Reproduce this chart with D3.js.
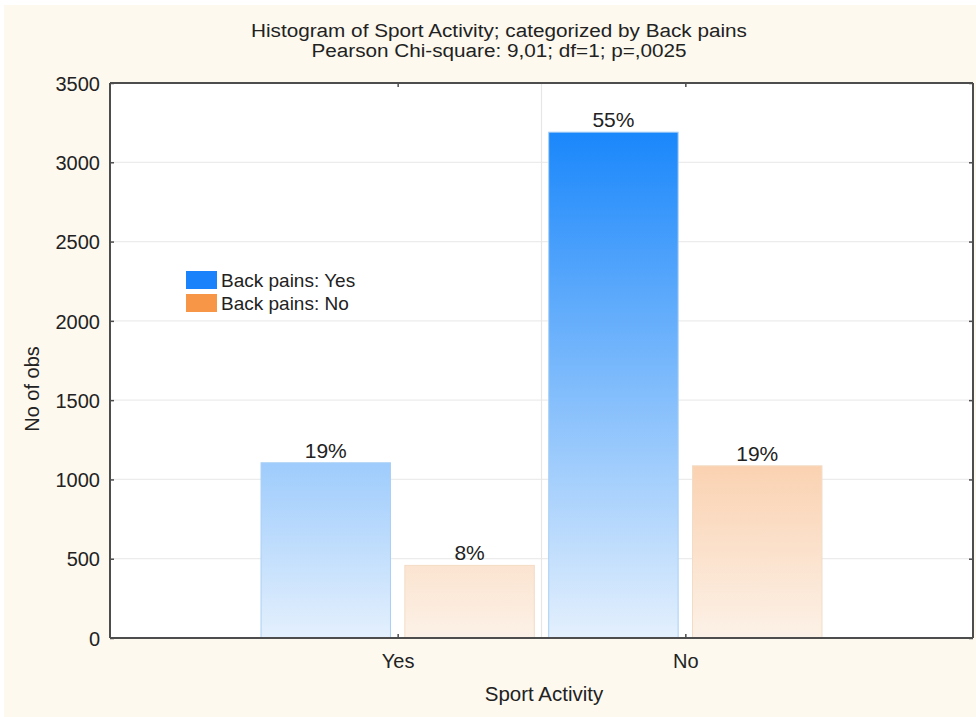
<!DOCTYPE html>
<html><head><meta charset="utf-8">
<script src="https://cdn.jsdelivr.net/npm/d3@7"></script>
<style>body{margin:0;background:#fff}svg{display:block;font-family:"Liberation Sans",Arial,sans-serif}</style>
</head><body>
<svg id="c" width="976" height="717"></svg>
<script>
const categories = ["Yes", "No"];
const seriesNames = ["Back pains: Yes", "Back pains: No"];
const backPainsYes = [1105, 3190];
const backPainsNo = [458, 1086];
const percentLabelsYes = ["19%", "55%"];
const percentLabelsNo = ["8%", "19%"];
const yTicks = [0, 500, 1000, 1500, 2000, 2500, 3000, 3500];
const titleLines = ["Histogram of Sport Activity; categorized by Back pains", "Pearson Chi-square: 9,01; df=1; p=,0025"];

const W = 976, H = 717;
const m = {left: 110, right: 973, top: 83, bottom: 638};
const svg = d3.select("#c");

svg.append("rect").attr("x", 4).attr("y", 5).attr("width", W - 4).attr("height", H - 5).attr("fill", "#fdf9ef");
svg.append("rect").attr("x", m.left).attr("y", m.top).attr("width", m.right - m.left).attr("height", m.bottom - m.top).attr("fill", "#fff");

const x = d3.scaleLinear().domain([0, 3]).range([m.left, m.right]);
const y = d3.scaleLinear().domain([0, 3500]).range([m.bottom, m.top]);

const defs = svg.append("defs");
const maxV = d3.max(backPainsYes.concat(backPainsNo));
function grad(id, top, bottom) {
  const g = defs.append("linearGradient").attr("id", id).attr("gradientUnits", "userSpaceOnUse")
    .attr("x1", 0).attr("x2", 0).attr("y1", y(maxV)).attr("y2", y(0));
  g.append("stop").attr("offset", 0).attr("stop-color", top);
  g.append("stop").attr("offset", 1).attr("stop-color", bottom);
}
grad("gBlue", "#1a87fb", "#e4f0fd");
grad("gOrange", "#f7964a", "#fcf1e7");

// grid
svg.append("g").selectAll("line").data(yTicks.filter(d => d > 0 && d < 3500)).join("line")
  .attr("x1", m.left).attr("x2", m.right).attr("y1", d => y(d)).attr("y2", d => y(d))
  .attr("stroke", "#ececec").attr("stroke-width", 1.2);
svg.append("line").attr("x1", x(1.5)).attr("x2", x(1.5)).attr("y1", m.top).attr("y2", m.bottom)
  .attr("stroke", "#e6e6e6").attr("stroke-width", 1.2);

// bars
const bw = 0.45, gap = 0.025;
const series = [
  {vals: backPainsYes, labels: percentLabelsYes, fill: "url(#gBlue)", stroke: "#a9cff5", off: -gap - bw},
  {vals: backPainsNo, labels: percentLabelsNo, fill: "url(#gOrange)", stroke: "#f3dcc6", off: gap}
];
series.forEach(s => {
  const g = svg.append("g");
  g.selectAll("rect").data(s.vals).join("rect")
    .attr("x", (d, i) => x(i + 1 + s.off))
    .attr("width", x(bw) - x(0))
    .attr("y", d => y(d))
    .attr("height", d => y(0) - y(d))
    .attr("fill", s.fill).attr("stroke", s.stroke).attr("stroke-width", 1);
  g.selectAll("text").data(s.vals).join("text")
    .attr("x", (d, i) => x(i + 1 + s.off + bw / 2))
    .attr("y", d => y(d) - 5)
    .attr("text-anchor", "middle").attr("font-size", 21).attr("fill", "#222")
    .text((d, i) => s.labels[i]);
});

// axes
const axStroke = "#4d4d4d";
const yAxis = svg.append("g").attr("transform", `translate(${m.left},0)`)
  .call(d3.axisLeft(y).tickValues(yTicks).tickSize(-4).tickPadding(10).tickFormat(d3.format("d")));
const yAxisR = svg.append("g").attr("transform", `translate(${m.right},0)`)
  .call(d3.axisRight(y).tickValues(yTicks).tickSize(-4).tickFormat(""));
const xAxis = svg.append("g").attr("transform", `translate(0,${m.bottom})`)
  .call(d3.axisBottom(x).tickValues([1, 2]).tickSize(-4).tickPadding(16).tickFormat(d => categories[d - 1]));
const xAxisT = svg.append("g").attr("transform", `translate(0,${m.top})`)
  .call(d3.axisTop(x).tickValues([1, 2]).tickSize(-4).tickFormat(""));
[yAxis, yAxisR, xAxis, xAxisT].forEach(a => {
  a.select(".domain").remove();
  a.selectAll(".tick line").attr("stroke", axStroke).attr("stroke-width", 1.5);
  a.selectAll("text").attr("font-size", 20).attr("fill", "#222").attr("font-family", "Liberation Sans, Arial, sans-serif");
});
yAxis.selectAll("text").attr("dy", "0.36em");
// frame lines
[[m.left, m.bottom, m.right, m.bottom], [m.left, m.top, m.right, m.top], [m.left, m.top, m.left, m.bottom], [m.right, m.top, m.right, m.bottom]]
  .forEach(l => svg.append("line").attr("x1", l[0]).attr("y1", l[1]).attr("x2", l[2]).attr("y2", l[3])
    .attr("stroke", axStroke).attr("stroke-width", 2));

// titles (slightly widened glyphs, like the reference)
svg.append("g").selectAll("text").data(titleLines).join("text")
  .attr("x", 499).attr("y", (d, i) => 37 + i * 20)
  .attr("text-anchor", "middle").attr("font-size", 18).attr("fill", "#222").text(d => d)
  .each(function() {
    const len = this.getComputedTextLength();
    d3.select(this).attr("textLength", len * 1.15).attr("lengthAdjust", "spacingAndGlyphs");
  });
svg.append("text").attr("x", 544).attr("y", 701).attr("text-anchor", "middle")
  .attr("font-size", 20.5).attr("fill", "#222").text("Sport Activity");
svg.append("text").attr("transform", `translate(39,389) rotate(-90)`)
  .attr("text-anchor", "middle").attr("font-size", 20).attr("fill", "#222").text("No of obs");

// legend
const legColors = ["#1a82fb", "#f79646"];
const lg = svg.append("g").selectAll("g").data(seriesNames).join("g")
  .attr("transform", (d, i) => `translate(186,${271 + i * 23})`);
lg.append("rect").attr("width", 31).attr("height", 18).attr("fill", (d, i) => legColors[i]);
lg.append("text").attr("x", 35).attr("y", 16).attr("font-size", 19).attr("fill", "#222").text(d => d);
</script>
</body></html>
